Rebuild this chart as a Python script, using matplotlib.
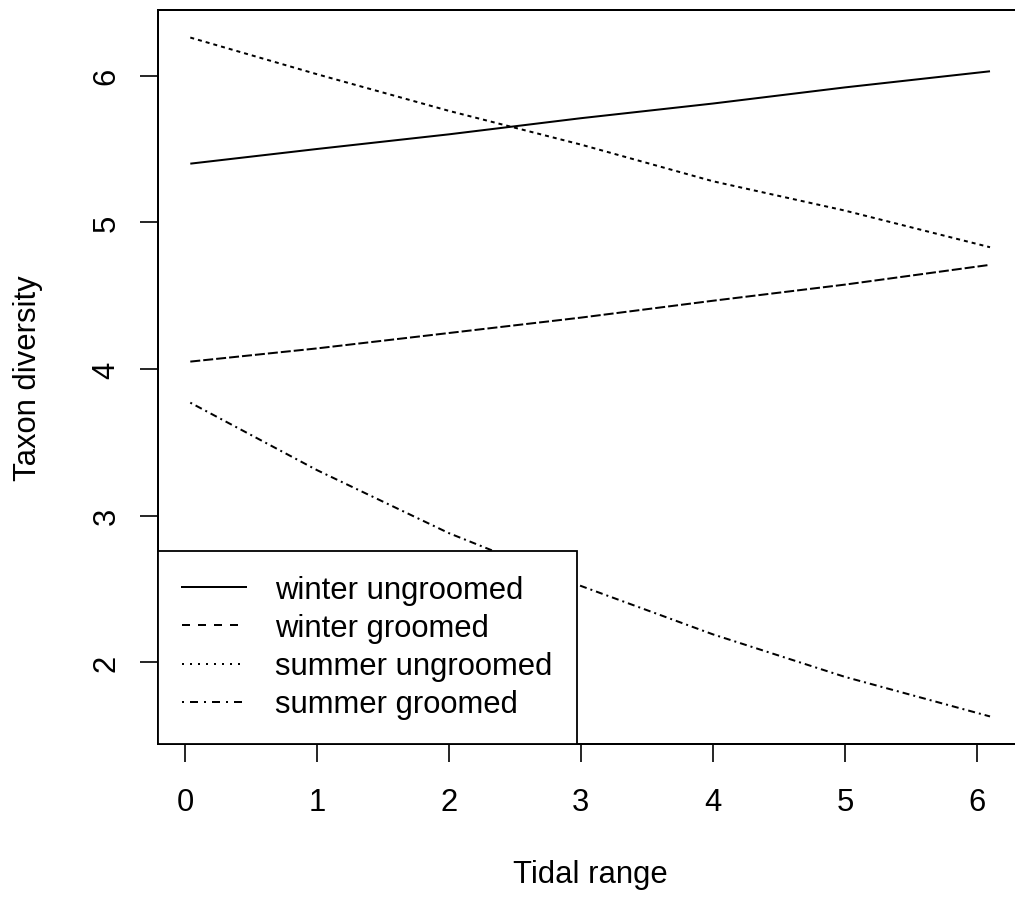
import matplotlib
matplotlib.use("Agg")
import matplotlib.pyplot as plt
from matplotlib.lines import Line2D

# values (predicted taxon diversity vs tidal range)
tidal = [0.04, 1, 2, 3, 4, 5, 6.1]
winter_ungroomed = [5.40, 5.50, 5.60, 5.71, 5.81, 5.92, 6.03]
winter_groomed = [4.05, 4.14, 4.245, 4.35, 4.465, 4.575, 4.71]
summer_ungroomed = [6.26, 6.01, 5.76, 5.53, 5.28, 5.08, 4.83]
summer_groomed = [3.77, 3.31, 2.88, 2.52, 2.19, 1.90, 1.63]

labels = ["winter ungroomed", "winter groomed", "summer ungroomed", "summer groomed"]
x_ticks = [0, 1, 2, 3, 4, 5, 6]
y_ticks = [2, 3, 4, 5, 6]

plt.rcParams['font.family'] = ['Liberation Sans', 'DejaVu Sans']
plt.rcParams['font.size'] = 22.3

W, H = 1015, 904
LW = 1.44  # ~2 px

fig = plt.figure(figsize=(W / 100, H / 100), dpi=100)
# plot region in pixels: left, top, right, bottom (right edge falls outside the image)
left, top, right, bottom = 158.3, 11.4, 1022.0, 744.6
ax = fig.add_axes([left / W, 1 - bottom / H, (right - left) / W, (bottom - top) / H])

series = [winter_ungroomed, winter_groomed, summer_ungroomed, summer_groomed]
plot_styles = ['-', (0, (5, 1.5)), (0, (2, 2)), (0, (1, 2, 3.5, 2))]
legend_styles = ['-', (0, (4, 4)), (0, (1, 3)), (0, (1, 3, 4, 3))]

for ys, st in zip(series, plot_styles):
    ax.plot(tidal, ys, color='black', lw=LW, ls=st, solid_capstyle='butt',
            dash_capstyle='butt')

# R style 4% axis expansion
all_y = [v for s in series for v in s]
xr = max(tidal) - min(tidal)
yr = max(all_y) - min(all_y)
ax.set_xlim(min(tidal) - 0.04 * xr, max(tidal) + 0.04 * xr)
ax.set_ylim(min(all_y) - 0.04 * yr, max(all_y) + 0.04 * yr)

ax.set_xticks(x_ticks)
ax.set_yticks(y_ticks)
ax.tick_params(direction='out', length=13, width=1.2, color='black')
ax.tick_params(axis='x', pad=18)
ax.tick_params(axis='y', pad=13.4, labelrotation=90)
for lab in ax.get_yticklabels():
    lab.set_verticalalignment('center')

for sp in ax.spines.values():
    sp.set_linewidth(LW)
    sp.set_color('black')

ax.set_xlabel("Tidal range")
ax.set_ylabel("Taxon diversity")
ax.xaxis.set_label_coords(0.5, (bottom - 860) / (bottom - top))
ax.yaxis.set_label_coords((43 - left) / (right - left), 0.5)

handles = [Line2D([], [], color='black', lw=LW, ls=st) for st in legend_styles]
leg = ax.legend(handles, labels, loc='lower left', bbox_to_anchor=(0, 0),
                borderaxespad=0, fancybox=False, framealpha=1, edgecolor='black',
                handlelength=2.05, handletextpad=0.95, labelspacing=0.26,
                borderpad=0.78)
leg.get_frame().set_linewidth(1.3)

fig.savefig("out.png", dpi=100)
